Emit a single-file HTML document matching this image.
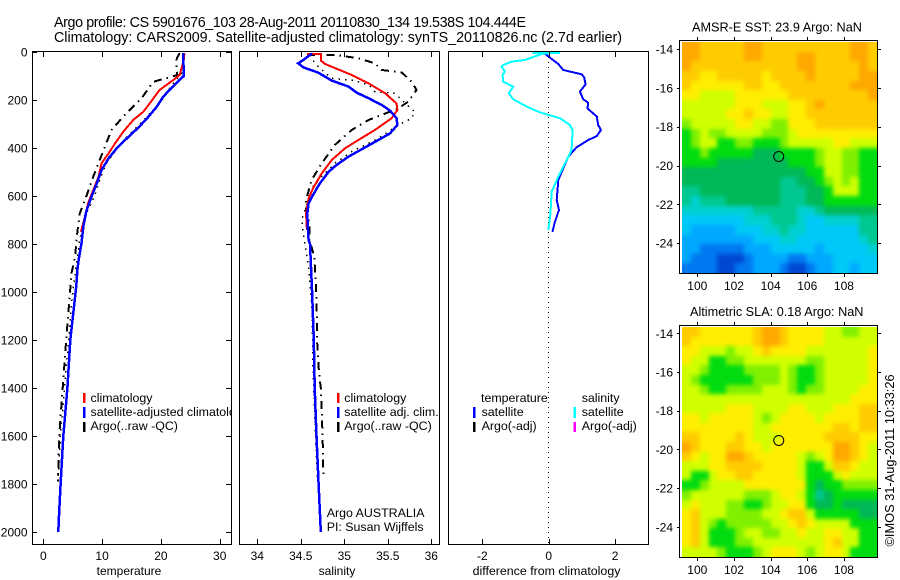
<!DOCTYPE html>
<html>
<head>
<meta charset="utf-8">
<title>Argo profile</title>
<style>
html,body{margin:0;padding:0;background:#fff;}
svg{display:block;}
text{font-family:"Liberation Sans",sans-serif;font-size:12px;fill:#000;}
.ttl{font-size:14.3px;}
.leg{font-size:12.4px;}
.mt{font-size:12.7px;}
</style>
</head>
<body>
<svg id="chart" xmlns="http://www.w3.org/2000/svg" width="900" height="580" viewBox="0 0 900 580">
<defs>
<clipPath id="clipT"><rect x="32" y="52" width="199" height="493"/></clipPath>
<clipPath id="clipS"><rect x="240" y="52" width="199.5" height="493"/></clipPath>
<clipPath id="clipD"><rect x="448.5" y="52" width="200" height="493"/></clipPath>
<clipPath id="clipMapA"><rect x="682" y="42" width="195" height="231"/></clipPath>
<clipPath id="clipMapB"><rect x="682" y="327" width="195" height="230"/></clipPath>
<filter id="soften" filterUnits="userSpaceOnUse" x="640" y="0" width="260" height="580" color-interpolation-filters="sRGB"><feGaussianBlur stdDeviation="2"/></filter>
</defs>
<text class="ttl" x="54" y="27" textLength="472" lengthAdjust="spacing">Argo profile: CS 5901676_103 28-Aug-2011 20110830_134 19.538S 104.444E</text>
<text class="ttl" x="54" y="42" textLength="568" lengthAdjust="spacing">Climatology: CARS2009. Satellite-adjusted climatology: synTS_20110826.nc (2.7d earlier)</text>

<g id="panelT"></g>
<g id="panelS"></g>
<g id="panelD"></g>
<g id="mapA"></g>
<g id="mapB"></g>

<text x="129" y="575" text-anchor="middle">temperature</text>
<text x="337" y="575" text-anchor="middle">salinity</text>
<text class="leg" x="546.5" y="575" text-anchor="middle">difference from climatology</text>

<g clip-path="url(#clipT)">
<rect x="83" y="393" width="2.5" height="10" fill="#f00"/>
<rect x="83" y="407" width="2.5" height="11" fill="#00f"/>
<rect x="83" y="422" width="2.5" height="10" fill="#000"/>
<text class="leg" x="90.5" y="402">climatology</text>
<text class="leg" x="90.5" y="416">satellite-adjusted climatology</text>
<text class="leg" x="90.5" y="430">Argo(..raw -QC)</text>
</g>
<g clip-path="url(#clipS)">
<rect x="337" y="393" width="2.5" height="10" fill="#f00"/>
<rect x="337" y="407" width="2.5" height="11" fill="#00f"/>
<rect x="337" y="422" width="2.5" height="10" fill="#000"/>
<text class="leg" x="344.3" y="402">climatology</text>
<text class="leg" x="344.3" y="416">satellite adj. clim.</text>
<text class="leg" x="344.3" y="430">Argo(..raw -QC)</text>
<text class="leg" x="326.7" y="517">Argo AUSTRALIA</text>
<text class="leg" x="326.7" y="531">PI: Susan Wijffels</text>
</g>
<g>
<text class="leg" x="481" y="402">temperature</text>
<text class="leg" x="481.6" y="416">satellite</text>
<text class="leg" x="481.6" y="430">Argo(-adj)</text>
<text class="leg" x="581.7" y="402">salinity</text>
<text class="leg" x="581.7" y="416">satellite</text>
<text class="leg" x="581.7" y="430">Argo(-adj)</text>
<rect x="473" y="407" width="2.5" height="11" fill="#00f"/>
<rect x="473" y="422" width="2.5" height="10" fill="#000"/>
<rect x="573.5" y="407" width="2.5" height="11" fill="#0ff"/>
<rect x="573.5" y="422" width="2.5" height="10" fill="#f0f"/>
</g>

<text class="mt" x="692" y="31.5">AMSR-E SST: 23.9 Argo: NaN</text>
<text class="mt" x="690" y="316">Altimetric SLA: 0.18 Argo: NaN</text>
<text transform="translate(894,546.5) rotate(-90)" style="font-size:12.8px">©IMOS 31-Aug-2011 10:33:26</text>
</svg>
<script>
// ---- shared tick labels ----
var depthTicks = [0,200,400,600,800,1000,1200,1400,1600,1800,2000];
var tempTicks = [0,10,20,30];
var salTicks = [34,34.5,35,35.5,36];
var diffTicks = [-2,0,2];
var lonTicks = [100,102,104,106,108];
var latTicks = [-14,-16,-18,-20,-22,-24];
var argoLon = [104.444];
var argoLat = [-19.538];

// ---- temperature profiles ----
var tempClimDepth = [5,33,96,117,158,214,249,283,332,381,422,464,519,575,631,686,749];
var tempClimValue = [24,23.9,23.2,22.1,19.8,18.1,17,15.3,13.6,12.2,11.1,9.9,9.4,8.5,7.6,7.1,6.4];
var tempSatDepth = [5,100,142,186,228,269,314,353,401,443,492,547,603,665,728,797,867,908,978,1200,1400,1600,1800,1940,2000];
var tempSatValue = [23.8,23.9,22.1,20.4,19.3,17.9,16.2,14.5,12.5,11.1,9.9,9.1,8.2,7.3,6.8,6.5,6,5.8,5.6,4.6,4.1,3.4,2.95,2.65,2.55];
var tempQcDepth = [5,26,68,96,124,193,269,325,374,450,519,596,672,769,853,922,985,1200,1400,1600,1790];
var tempQcValue = [23.2,22.7,22.6,22.8,18.7,16.7,13.6,11.6,10.8,9.6,8.5,7.4,6.2,5.7,5.4,4.8,4.6,3.9,3.3,2.7,2.5];
var tempRawDepth = [5,30,90,140,190,240,300,360,400,470,540,600,680,780,1000,1200,1400,1600,1790];
var tempRawValue = [24,23.9,23.5,21.8,20.5,18.8,16.4,14,12.6,10.6,9.5,8.7,7.2,6.2,5,4.3,3.6,2.9,2.5];

// ---- salinity profiles ----
var salClimDepth = [8,8,36,50,96,131,172,214,242,276,325,367,401,450,506,568,610,672,742];
var salClimValue = [34.57,34.73,34.73,34.78,35.085,35.28,35.47,35.6,35.61,35.545,35.35,35.16,35.01,34.855,34.74,34.64,34.59,34.56,34.57];
var salSatDepth = [6,33,47,64,86,119,144,169,193,221,244,276,304,339,367,397,436,471,499,547,596,631,672,728,783,800,1000,1200,1400,1600,1800,2000];
var salSatValue = [34.63,34.53,34.47,34.53,34.7,34.855,35.05,35.14,35.28,35.43,35.525,35.6,35.61,35.525,35.39,35.24,35.05,34.91,34.82,34.72,34.64,34.59,34.575,34.58,34.59,34.606,34.63,34.65,34.66,34.68,34.705,34.73];
var salQcDepth = [12,12,26,47,75,85,124,158,207,235,262,283,325,388,464,533,617,672,714,783,853,1020,1228,1339,1400,1600,1772];
var salQcValue = [34.57,34.89,35.16,35.35,35.43,35.66,35.775,35.83,35.735,35.62,35.43,35.28,35.085,34.89,34.74,34.625,34.56,34.56,34.6,34.6,34.655,34.68,34.69,34.71,34.73,34.75,34.76];
var salRawDepth = [12,47,110,117,137,165,172,214,249,276,304,360,415,464,519,561,700,756,908,1089,1325,1500,1770];
var salRawValue = [34.61,34.66,34.855,35.085,35.28,35.35,35.58,35.7,35.81,35.775,35.62,35.39,35.085,34.89,34.74,34.64,34.51,34.53,34.594,34.63,34.64,34.66,34.69];

// ---- difference profiles ----
var diffTempDepth = [6,50,75,93,106,135,165,197,211,235,269,304,325,350,367,397,436,533,617,658,707,749];
var diffTempValue = [-0.13,0.29,0.44,0.99,1.07,1.11,0.94,1.04,1.19,1.17,1.45,1.49,1.575,1.45,1.19,0.84,0.59,0.29,0.24,0.31,0.19,0.11];
var diffSalDepth = [4,4,6,33,40,54,61,82,96,124,144,172,197,224,249,262,276,304,325,408,450,519,582,672,742];
var diffSalValue = [-0.49,0.34,-0.16,-0.71,-1.11,-1.37,-1.42,-1.32,-1.39,-1.37,-1.07,-1.2,-1.07,-0.71,-0.31,-0.01,0.34,0.64,0.72,0.69,0.54,0.29,0.09,0.05,-0.01];
var diffZero = [0,0];
var diffZeroDepth = [0,2055];

// ---- heatmap colour levels (cell values, rows north to south) ----
var sstGrid = [
[12,12,11,11,11,11,11,12,12,11,11,11,11,11,11,11,11,11,11,12,12,11],
[12,12,11,11,11,11,11,12,12,11,11,11,11,12,12,11,11,11,11,12,12,11],
[12,11,11,11,11,11,11,11,11,11,11,11,11,12,12,11,11,11,11,11,12,11],
[11,11,10,10,11,11,11,11,11,10,11,11,11,11,12,11,11,11,11,11,12,12],
[11,10,10,10,10,10,10,11,11,10,10,11,11,11,11,11,11,11,11,12,12,12],
[10,10,9,9,9,9,10,10,10,10,10,10,11,11,11,11,11,11,11,11,11,12],
[9,9,9,9,9,9,10,10,10,9,9,9,10,10,11,12,11,11,11,11,11,11],
[9,9,9,9,9,10,10,11,10,10,9,9,10,10,11,11,11,11,11,11,11,11],
[8,9,9,9,9,9,10,10,9,9,8,8,10,10,10,11,11,11,11,11,11,11],
[7,8,9,8,8,9,9,9,9,8,8,8,9,10,10,10,10,10,10,10,10,10],
[7,8,9,9,7,7,8,8,7,7,7,8,9,9,9,9,9,10,10,9,9,9],
[7,7,8,7,7,7,7,7,6,6,6,7,7,7,7,8,9,9,8,8,7,7],
[7,7,7,7,6,6,6,6,6,6,6,6,7,7,7,8,9,9,8,8,7,7],
[6,6,6,6,6,6,6,6,6,6,6,6,6,6,7,7,9,9,8,8,7,7],
[6,6,6,6,6,6,6,6,6,6,6,5,5,6,6,7,8,9,8,9,7,7],
[5,5,6,6,6,6,6,6,6,6,6,5,5,5,6,6,7,9,9,9,7,7],
[5,4,5,5,5,6,6,6,6,6,6,5,5,5,6,6,7,7,7,7,7,7],
[4,4,4,4,4,4,4,4,5,5,5,5,5,4,4,5,6,6,6,6,6,6],
[3,3,3,3,3,3,3,4,4,4,5,5,5,4,3,3,4,4,4,4,5,5],
[3,2,2,2,2,2,3,3,3,4,4,5,4,4,3,3,3,3,3,3,5,5],
[2,2,2,2,2,2,2,2,3,3,3,4,4,3,3,3,3,3,3,3,4,5],
[2,2,1,1,1,1,1,2,2,2,3,3,3,3,3,2,3,3,3,3,3,4],
[2,1,1,1,0,0,0,1,2,2,2,2,1,1,2,2,2,3,3,3,3,3],
[1,1,1,1,0,0,1,1,2,2,2,1,0,0,1,2,2,3,3,2,3,3]
];
var slaGrid = [
[11,11,10,10,10,10,10,10,11,12,12,11,10,10,10,10,9,9,8,8,9,9],
[11,10,10,10,10,10,10,10,11,12,12,11,10,10,10,10,9,9,9,9,9,9],
[10,10,9,9,9,8,9,9,10,11,10,10,10,10,9,9,9,9,9,9,9,10],
[10,9,9,7,7,8,8,9,9,9,9,9,9,9,8,8,9,9,9,9,9,10],
[9,9,8,7,7,7,7,8,8,8,8,9,8,7,7,8,9,9,9,9,9,10],
[9,8,7,7,7,7,7,7,8,8,8,9,8,7,7,8,9,9,9,9,9,10],
[9,9,8,7,7,8,8,8,8,9,9,9,8,7,8,8,9,9,9,9,10,10],
[9,9,9,9,9,9,9,9,9,9,9,9,9,9,9,9,9,9,9,10,10,10],
[9,9,9,9,9,10,10,10,9,9,9,9,10,10,9,9,9,10,10,10,11,11],
[10,10,9,10,10,10,10,10,9,8,9,10,10,10,10,9,10,10,10,10,11,11],
[10,10,10,10,10,10,10,10,9,9,10,10,10,10,10,10,10,11,11,10,11,11],
[11,11,10,10,10,10,11,10,9,9,9,10,10,10,10,10,11,11,11,11,10,10],
[12,11,10,10,10,11,11,10,10,9,10,10,10,10,10,10,10,12,12,11,10,9],
[11,10,9,10,10,12,12,11,10,10,10,10,10,9,8,9,10,12,12,11,10,9],
[9,9,9,10,10,11,11,11,11,10,10,10,10,9,7,7,9,11,11,10,9,9],
[9,7,7,9,10,10,11,11,10,10,10,10,10,9,7,7,7,9,10,9,9,9],
[7,7,8,9,9,9,9,10,10,10,10,10,10,10,7,6,7,7,8,8,8,8],
[8,9,9,9,9,9,9,8,8,8,9,10,10,9,7,5,6,7,7,7,7,7],
[9,10,9,9,9,8,8,7,7,8,9,9,10,10,7,6,6,7,6,6,6,6],
[10,11,9,9,9,8,8,8,8,9,9,10,11,11,9,7,7,7,7,7,6,6],
[10,11,9,8,7,8,8,8,8,8,9,9,10,11,10,9,9,9,9,7,7,7],
[10,11,9,7,7,7,8,9,9,8,8,9,9,10,9,9,10,10,9,9,7,7],
[10,11,9,7,7,7,8,8,9,9,9,9,9,9,9,9,10,11,9,9,7,7],
[9,9,9,9,8,7,7,7,8,9,10,10,10,9,8,9,10,10,9,7,7,7]
];
var levelColors = ['#0048d0','#0078f0','#00a8ff','#00c8f8','#00d0d0','#00c890','#00b858','#00dc10','#80f000','#d0ff00','#ffee00','#ffcc00','#ffa800'];

var NS = 'http://www.w3.org/2000/svg';
function make(tag, parent, attrs) {
  var el = document.createElementNS(NS, tag);
  for (var k in attrs) el.setAttribute(k, attrs[k]);
  parent.appendChild(el);
  return el;
}
function depthY(d) { return 52 + 0.24 * d; }
function tempX(v) { return 43.3 + 5.88 * v; }
function salX(v) { return 257.3 + 87 * (v - 34); }
function diffX(v) { return 548.7 + 33.2 * v; }

function drawSeries(parent, clip, name, xs, ds, xFn, color, width, dash) {
  var pts = xs.map(function (v, i) { return xFn(v).toFixed(1) + ',' + depthY(ds[i]).toFixed(1); }).join(' ');
  var attrs = { points: pts, fill: 'none', stroke: color, 'stroke-width': width, 'clip-path': 'url(#' + clip + ')', 'shape-rendering': 'crispEdges' };
  if (dash) attrs['stroke-dasharray'] = dash;
  var el = make('polyline', parent, attrs);
  
  
}

function axisLine(parent, x1, y1, x2, y2) {
  var el = make('line', parent, { x1: x1, y1: y1, x2: x2, y2: y2, stroke: '#000', 'stroke-width': 1, 'shape-rendering': 'crispEdges' });
  
  
}
function label(parent, x, y, anchor, str) {
  var el = make('text', parent, { x: x, y: y, 'text-anchor': anchor });
  el.textContent = str;
  
  
}

function drawPanel(parent, x0, x1, xTicks, xFn, withDepth) {
  var frame = make('rect', parent, { x: x0 + 0.5, y: 51.5, width: x1 - x0, height: 493, fill: 'none', stroke: '#000', 'stroke-width': 1, 'shape-rendering': 'crispEdges' });
  
  
  xTicks.forEach(function (t) {
    var x = Math.round(xFn(t)) + 0.5;
    axisLine(parent, x, 52, x, 57);
    axisLine(parent, x, 544, x, 539);
    label(parent, xFn(t), 560, 'middle', String(t));
  });
  if (withDepth) {
    depthTicks.forEach(function (d) {
      var y = Math.round(depthY(d)) + 0.5;
      axisLine(parent, x0, y, x0 + 5, y);
      axisLine(parent, x1, y, x1 - 5, y);
      label(parent, 27.5, depthY(d) + 4.5, 'end', String(d));
    });
  }
}

function drawMap(parent, grid, top, bottom, axisTop, latRef, latScale, clipId) {
  var imgLeft = 682, imgRight = 877;
  var rows = grid.length, cols = grid[0].length;
  var lonX = function (l) { return 697.3 + (l - 100) * 18.33; };
  var latY = function (l) { return latRef + (-14 - l) * latScale; };
  var clipGroup = make('g', parent, { 'clip-path': 'url(#' + clipId + ')' });
  
  
  var cells = make('g', clipGroup, { filter: 'url(#soften)' });
  
  
  grid.forEach(function (row, r) {
    row.forEach(function (lv, c) {
      var x = Math.round(imgLeft + (imgRight - imgLeft) * c / cols);
      var x2 = Math.round(imgLeft + (imgRight - imgLeft) * (c + 1) / cols);
      var y = Math.round(top + (bottom - top) * r / rows);
      var y2 = Math.round(top + (bottom - top) * (r + 1) / rows);
      // edge cells run past the clip so the softening does not fade into white
      if (c === 0) x -= 14;
      if (c === cols - 1) x2 += 14;
      if (r === 0) y -= 14;
      if (r === rows - 1) y2 += 14;
      var cell = make('rect', cells, { x: x, y: y, width: x2 - x, height: y2 - y, fill: levelColors[lv] });
      
      
    });
  });
  var frame = make('rect', parent, { x: 679.5, y: axisTop + 0.5, width: 198, height: bottom - axisTop, fill: 'none', stroke: '#000', 'stroke-width': 1, 'shape-rendering': 'crispEdges' });
  
  
  lonTicks.forEach(function (l) {
    var x = Math.round(lonX(l)) + 0.5;
    axisLine(parent, x, axisTop, x, axisTop - 3);
    axisLine(parent, x, bottom + 1, x, bottom + 4);
    label(parent, lonX(l), bottom + 17, 'middle', String(l));
  });
  latTicks.forEach(function (l) {
    var y = Math.round(latY(l)) + 0.5;
    axisLine(parent, 680, y, 677, y);
    axisLine(parent, 878, y, 881, y);
    label(parent, 673, latY(l) + 4.5, 'end', String(l));
  });
  var circle = make('circle', parent, { cx: lonX(argoLon[0]), cy: latY(argoLat[0]), r: 5, fill: 'none', stroke: '#000', 'stroke-width': 1 });
  
  
}

var pT = document.getElementById('panelT');
var pS = document.getElementById('panelS');
var pD = document.getElementById('panelD');

drawSeries(pT, 'clipT', 'argo-raw-temperature-line', tempRawValue, tempRawDepth, tempX, '#000', 1.5, '1.5 5');
drawSeries(pT, 'clipT', 'argo-qc-temperature-line', tempQcValue, tempQcDepth, tempX, '#000', 2, '8 5 1.5 5');
drawSeries(pT, 'clipT', 'climatology-temperature-line', tempClimValue, tempClimDepth, tempX, '#f00', 2);
drawSeries(pT, 'clipT', 'satellite-temperature-line', tempSatValue, tempSatDepth, tempX, '#00f', 2.5);
drawPanel(pT, 32, 231, tempTicks, tempX, true);

drawSeries(pS, 'clipS', 'argo-raw-salinity-line', salRawValue, salRawDepth, salX, '#000', 1.5, '1.5 5');
drawSeries(pS, 'clipS', 'argo-qc-salinity-line', salQcValue, salQcDepth, salX, '#000', 2, '8 5 1.5 5');
drawSeries(pS, 'clipS', 'climatology-salinity-line', salClimValue, salClimDepth, salX, '#f00', 2);
drawSeries(pS, 'clipS', 'satellite-salinity-line', salSatValue, salSatDepth, salX, '#00f', 2.5);
drawPanel(pS, 239, 439, salTicks, salX, false);

drawSeries(pD, 'clipD', 'zero-reference-line', diffZero, diffZeroDepth, diffX, '#000', 1, '1 4');
drawSeries(pD, 'clipD', 'temperature-difference-line', diffTempValue, diffTempDepth, diffX, '#00f', 2);
drawSeries(pD, 'clipD', 'salinity-difference-line', diffSalValue, diffSalDepth, diffX, '#0ff', 2);
drawPanel(pD, 448, 648, diffTicks, diffX, false);

drawMap(document.getElementById('mapA'), sstGrid, 42, 273, 40, 49, 19.42, 'clipMapA');
drawMap(document.getElementById('mapB'), slaGrid, 327, 557, 325, 333.3, 19.35, 'clipMapB');
</script>
</body>
</html>
